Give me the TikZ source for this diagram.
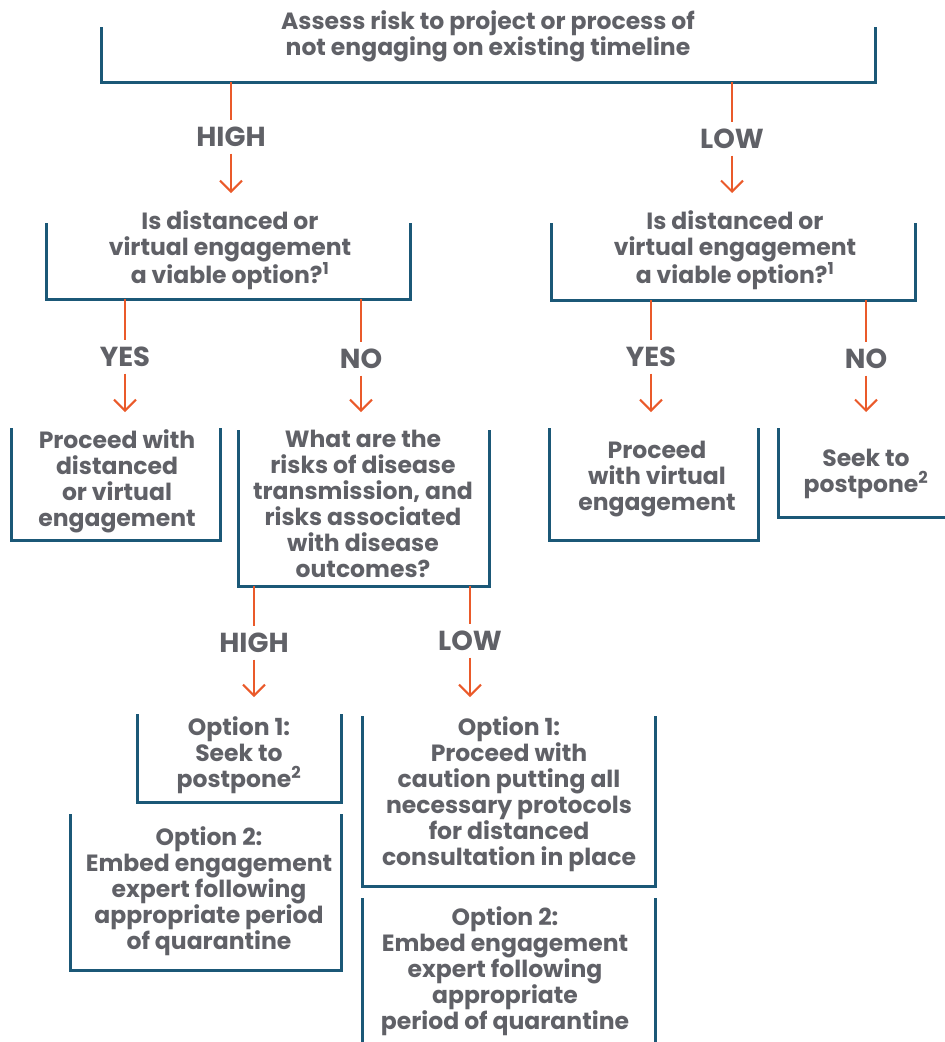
\documentclass[tikz,border=0pt]{standalone}
\usepackage{fontspec}
\setmainfont{Poppins}
\usetikzlibrary{arrows.meta,calc}
\definecolor{navy}{HTML}{1B5877}
\definecolor{flow}{HTML}{EA5A2A}
\definecolor{ink}{HTML}{606167}
\tikzset{
  frame/.style={inner sep=0pt, outer sep=0pt, draw=none},
  bracket/.style={draw=navy, line width=3pt},
  txt/.style={align=center, text=ink, inner sep=0pt,
    font=\fontsize{23.5}{26}\selectfont\bfseries},
  lbl/.style={text=ink, inner sep=0pt, minimum height=33pt,
    font=\fontsize{27.5}{30}\selectfont\bfseries},
  flowline/.style={draw=flow, line width=2pt},
  flowarrow/.style={flowline, -{Straight Barb[length=11pt,width=22pt,line width=2pt]}},
}
% frame node: name, x1, y1, x2, y2
\newcommand\mkframe[5]{%
  \node[frame, minimum width={(#4-#2)*1pt}, minimum height={(#5-#3)*1pt}]
    (#1) at ({(#2+#4)/2},{(#3+#5)/2}) {};}
\begin{document}
\begin{tikzpicture}[x=1pt,y=-1pt]
\useasboundingbox (0,0) rectangle (945,1042);

% frames
\mkframe{f0}{101}{27}{875}{82}
\mkframe{f1}{46}{223}{410}{299}
\mkframe{f2}{551}{223}{915}{300}
\mkframe{f3}{11}{428}{220}{540}
\mkframe{f4}{238}{430}{489}{586}
\mkframe{f5}{549}{428}{758}{540}
\mkframe{f6}{778}{428}{950}{517}
\mkframe{f7}{137}{714}{341}{802}
\mkframe{f8}{70}{814}{341}{970}
\mkframe{f9}{362}{716}{655}{886}
\mkframe{f10}{362}{898}{655}{1050}

\foreach \f in {f0,f1,f2,f3,f4,f5,f7,f8,f9}
  \draw[bracket] (\f.north west) |- (\f.south east) -- (\f.north east);
\draw[bracket] (f6.north west) |- (f6.south east);
\draw[bracket] (f10.north west) -- (f10.south west);
\draw[bracket] (f10.north east) -- (f10.south east);

% texts
\node[txt] (t0) at (488,36) {Assess risk to project or process of\\not engaging on existing timeline};
\node[txt] (t1) at (230,250) {Is distanced or\\virtual engagement\\a viable option?\textsuperscript{1}};
\node[txt] (t2) at (735,250) {Is distanced or\\virtual engagement\\a viable option?\textsuperscript{1}};
\node[txt] (t3) at (117,481) {Proceed with\\distanced\\or virtual\\engagement};
\node[txt] (t4) at (363,504) {What are the\\risks of disease\\transmission, and\\risks associated\\with disease\\outcomes?};
\node[txt] (t5) at (657,479) {Proceed\\with virtual\\engagement};
\node[txt] (t6) at (866,474) {Seek to\\postpone\textsuperscript{2}};
\node[txt] (t7) at (239,755) {Option 1:\\Seek to\\postpone\textsuperscript{2}};
\node[txt] (t8) at (209,891) {Option 2:\\Embed engagement\\expert following\\appropriate period\\of quarantine};
\node[txt] (t9) at (509,794) {Option 1:\\Proceed with\\caution putting all\\necessary protocols\\for distanced\\consultation in place};
\node[txt] (t10) at (505,971) {Option 2:\\Embed engagement\\expert following\\appropriate\\period of quarantine};

% branch labels
\node[lbl] (hi1) at (231,137) {HIGH};
\node[lbl] (lo1) at (732,139) {LOW};
\node[lbl] (ye1) at (125,357) {YES};
\node[lbl] (no1) at (361,359) {NO};
\node[lbl] (ye2) at (651,357) {YES};
\node[lbl] (no2) at (866,359) {NO};
\node[lbl] (hi2) at (254,643) {HIGH};
\node[lbl] (lo2) at (470,641) {LOW};

% connectors
\draw[flowline] (f0.south -| hi1) -- (hi1.north);
\draw[flowarrow, shorten >=30pt] (hi1.south) -- (f1.north -| hi1);
\draw[flowline] (f0.south -| lo1) -- (lo1.north);
\draw[flowarrow, shorten >=30pt] (lo1.south) -- (f2.north -| lo1);

\draw[flowline] (f1.south -| ye1) -- (ye1.north);
\draw[flowarrow, shorten >=16pt] (ye1.south) -- (f3.north -| ye1);
\draw[flowline] (f1.south -| no1) -- (no1.north);
\draw[flowarrow, shorten >=18pt] (no1.south) -- (f4.north -| no1);

\draw[flowline] (f2.south -| ye2) -- (ye2.north);
\draw[flowarrow, shorten >=16pt] (ye2.south) -- (f5.north -| ye2);
\draw[flowline] (f2.south -| no2) -- (no2.north);
\draw[flowarrow, shorten >=16pt] (no2.south) -- (f6.north -| no2);

\draw[flowline] (f4.south -| hi2) -- (hi2.north);
\draw[flowarrow, shorten >=17pt] (hi2.south) -- (f7.north -| hi2);
\draw[flowline] (f4.south -| lo2) -- (lo2.north);
\draw[flowarrow, shorten >=19pt] (lo2.south) -- (f9.north -| lo2);
\end{tikzpicture}
\end{document}
